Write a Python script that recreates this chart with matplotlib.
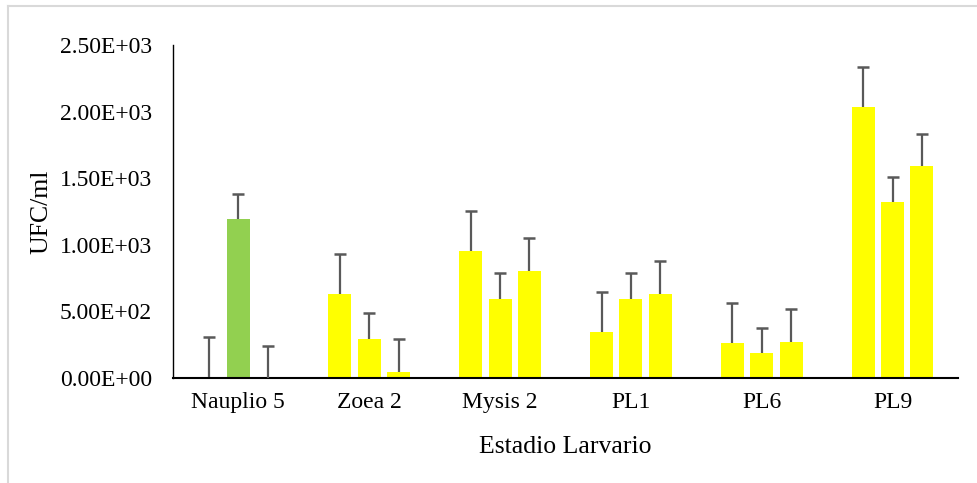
import numpy as np
import matplotlib.pyplot as plt
from matplotlib.lines import Line2D

plt.rcParams['font.family'] = ['Liberation Serif', 'DejaVu Serif']

stages = ['Nauplio 5', 'Zoea 2', 'Mysis 2', 'PL1', 'PL6', 'PL9']

# three replicate series per stage (UFC/ml) and their upper error
serie_1 = [5, 631, 951, 345, 263, 2035]
serie_2 = [1195, 293, 593, 593, 185, 1321]
serie_3 = [0, 45, 801, 633, 273, 1589]
err_1 = [303, 300, 300, 301, 302, 302]
err_2 = [186, 195, 193, 193, 190, 190]
err_3 = [240, 248, 248, 248, 247, 245]

yellow = '#FFFF00'
green = '#92D050'
err_col = '#595959'

fig = plt.figure(figsize=(9.77, 4.83), dpi=100)
ax = fig.add_axes([0.177, 0.2174, 0.8036, 0.6894])

x = np.arange(len(stages))
pitch = 0.224
width = 0.176

series = [serie_1, serie_2, serie_3]
errs = [err_1, err_2, err_3]
for k, (vals, e) in enumerate(zip(series, errs)):
    pos = x + (k - 1) * pitch
    cols = [yellow] * len(stages)
    if k == 1:
        cols[0] = green  # Nauplio 5 middle bar
    ax.bar(pos, vals, width=width, color=cols, zorder=2)
    eb = ax.errorbar(pos, vals, yerr=[np.zeros(len(vals)), e], fmt='none',
                     ecolor=err_col, elinewidth=1.6, capsize=4.4, capthick=1.8,
                     zorder=3)
    # only the upper cap is shown
    eb[1][0].set_visible(False)

ax.set_xlim(-0.5, len(stages) - 0.5)
ax.set_ylim(0, 2500)
ax.set_yticks(np.arange(0, 2501, 500))
ax.set_yticklabels(['{:.2E}'.format(v) for v in np.arange(0, 2501, 500)])
ax.set_xticks(x)
ax.set_xticklabels(stages)
ax.tick_params(axis='both', length=0, labelsize=17)
ax.tick_params(axis='y', pad=15)
ax.tick_params(axis='x', pad=10)

for s in ['top', 'right']:
    ax.spines[s].set_visible(False)
ax.spines['left'].set_linewidth(1.0)
ax.spines['bottom'].set_linewidth(1.5)

ax.set_ylabel('UFC/ml', fontsize=18.5, labelpad=5)
ax.set_xlabel('Estadio Larvario', fontsize=18.5, labelpad=17)

# light frame of the chart area
fig.add_artist(Line2D([0.0077, 1.0], [0.9886, 0.9886], color='#d9d9d9', lw=1.5,
                      transform=fig.transFigure))
fig.add_artist(Line2D([0.0077, 0.0077], [0.0, 0.9886], color='#d9d9d9', lw=1.5,
                      transform=fig.transFigure))

plt.savefig('out.png', dpi=100)
print("saved")
